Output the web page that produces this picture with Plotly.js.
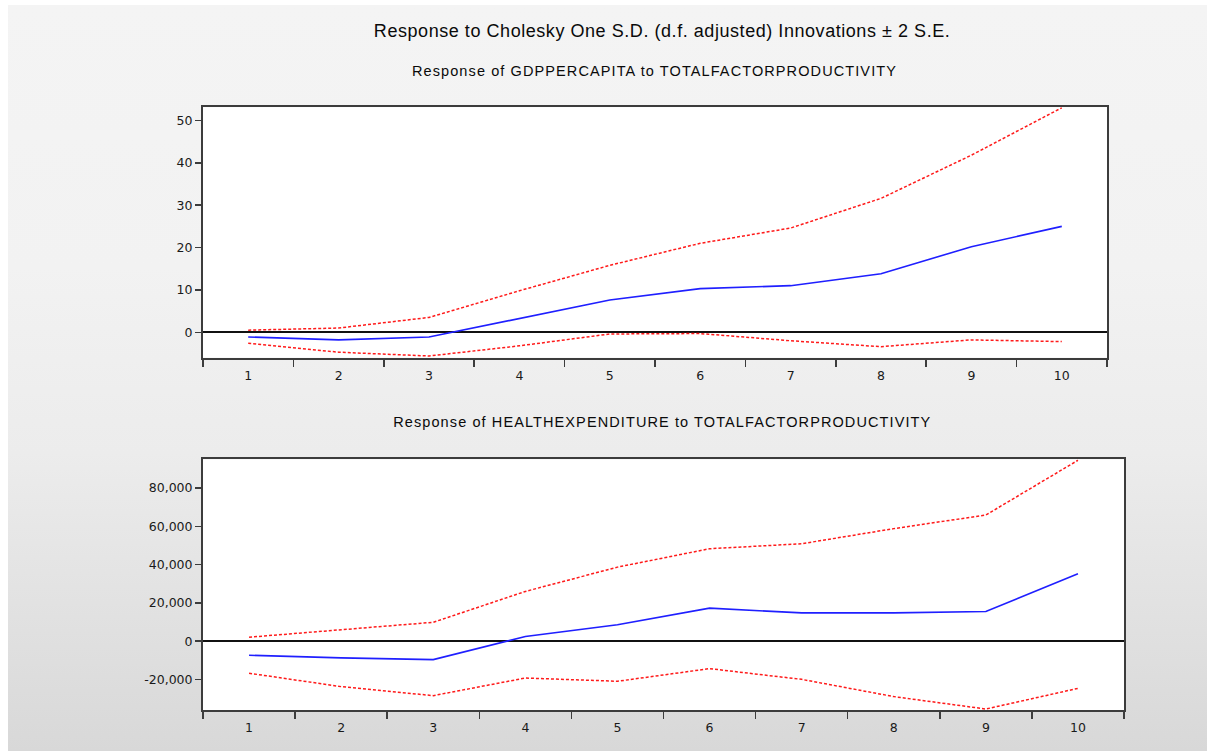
<!DOCTYPE html>
<html>
<head>
<meta charset="utf-8">
<script src="https://cdn.plot.ly/plotly-3.0.1.min.js"></script>
<style>
  html, body { margin: 0; padding: 0; background: #ffffff; }
  #panel {
    position: absolute; left: 8px; top: 5px; width: 1199px; height: 746px;
    background: linear-gradient(to bottom, #f4f4f4 0%, #f2f2f2 35%, #ececec 60%, #d8d8d8 100%);
  }
  #chart { position: absolute; left: 0; top: 0; width: 1207px; height: 751px; }
  #chart g.annotation .annotation-text { letter-spacing: 1.1px; }
  #chart g.annotation[data-index="0"] .annotation-text { letter-spacing: 0.55px; }
</style>
</head>
<body>
<div id="panel"></div>
<div id="chart"></div>
<script>
// Impulse-response periods
const periods = ['1', '2', '3', '4', '5', '6', '7', '8', '9', '10'];

// Response of GDPPERCAPITA to a TOTALFACTORPRODUCTIVITY shock, with ±2 S.E. bands
const gdpResponse = [-1.1, -1.8, -1.1, 3.3, 7.6, 10.3, 11.0, 13.8, 20.2, 25.0];
const gdpUpper    = [0.5, 1.0, 3.5, 9.8, 15.8, 21.0, 24.6, 31.6, 41.8, 53.0];
const gdpLower    = [-2.6, -4.7, -5.6, -3.2, -0.4, -0.3, -2.0, -3.4, -1.8, -2.2];

// Response of HEALTHEXPENDITURE to a TOTALFACTORPRODUCTIVITY shock, with ±2 S.E. bands
const healthResponse = [-7300, -8700, -9600, 2500, 8600, 17300, 14800, 14800, 15500, 35200];
const healthUpper    = [2100, 5900, 9900, 26000, 38700, 48300, 50900, 58800, 65900, 94500];
const healthLower    = [-16700, -23700, -28400, -19200, -20900, -14300, -19900, -28900, -35400, -24600];

// Axis tick labels
const gdpTickVals = [0, 10, 20, 30, 40, 50];
const gdpTickText = ['0', '10', '20', '30', '40', '50'];
const healthTickVals = [-20000, 0, 20000, 40000, 60000, 80000];
const healthTickText = ['-20,000', '0', '20,000', '40,000', '60,000', '80,000'];

// Titles
const mainTitle = 'Response to Cholesky One S.D. (d.f. adjusted) Innovations \u00b1 2 S.E.';
const gdpTitle = 'Response of GDPPERCAPITA to TOTALFACTORPRODUCTIVITY';
const healthTitle = 'Response of HEALTHEXPENDITURE to TOTALFACTORPRODUCTIVITY';

const W = 1207, H = 751;
const frameColor = '#3c3c3c';
const tickFont = { family: 'DejaVu Sans, Verdana, sans-serif', size: 12.5, color: '#1a1a1a' };
const titleFont = 'Liberation Sans, Arial, sans-serif';

function band(y, xa, ya) {
  return { x: periods, y: y, xaxis: xa, yaxis: ya, type: 'scatter', mode: 'lines',
           line: { color: '#ff1a1a', width: 1.5, dash: '3px,2px' }, hoverinfo: 'skip' };
}
function resp(y, xa, ya) {
  return { x: periods, y: y, xaxis: xa, yaxis: ya, type: 'scatter', mode: 'lines',
           line: { color: '#1f1fff', width: 1.6 } };
}

const traces = [
  band(gdpUpper, 'x', 'y'), band(gdpLower, 'x', 'y'), resp(gdpResponse, 'x', 'y'),
  band(healthUpper, 'x2', 'y2'), band(healthLower, 'x2', 'y2'), resp(healthResponse, 'x2', 'y2')
];

function xAxis(domain) {
  return {
    domain: domain, type: 'category', range: [-0.5, 9.5], tickson: 'boundaries',
    ticks: 'outside', ticklen: 7, tickwidth: 1.5, tickcolor: frameColor,
    ticklabelstandoff: 5,
    showline: true, mirror: true, linecolor: frameColor, linewidth: 2,
    showgrid: false, zeroline: false, tickfont: tickFont, fixedrange: true
  };
}
function yAxis(domain, range, vals, text, anchor) {
  return {
    domain: domain, range: range, anchor: anchor,
    tickmode: 'array', tickvals: vals, ticktext: text,
    ticks: 'outside', ticklen: 6, tickwidth: 1.5, tickcolor: frameColor,
    showline: true, mirror: true, linecolor: frameColor, linewidth: 2,
    showgrid: false, zeroline: true, zerolinecolor: '#111111', zerolinewidth: 2,
    tickfont: tickFont, fixedrange: true
  };
}

const layout = {
  width: W, height: H,
  margin: { l: 0, r: 0, t: 0, b: 0 },
  paper_bgcolor: 'rgba(0,0,0,0)', plot_bgcolor: '#ffffff',
  showlegend: false,
  xaxis: Object.assign(xAxis([203 / W, 1107 / W]), { anchor: 'y' }),
  yaxis: yAxis([1 - 357.7 / H, 1 - 107.3 / H], [-6, 53.1], gdpTickVals, gdpTickText, 'x'),
  xaxis2: Object.assign(xAxis([203 / W, 1124 / W]), { anchor: 'y2' }),
  yaxis2: yAxis([1 - 710 / H, 1 - 459.3 / H], [-35900, 95000], healthTickVals, healthTickText, 'x2'),
  annotations: [
    { text: mainTitle, x: 662 / W, y: 1 - 31 / H, xref: 'paper', yref: 'paper',
      xanchor: 'center', yanchor: 'middle', showarrow: false,
      font: { family: titleFont, size: 18, color: '#0a0a0a' } },
    { text: gdpTitle, x: 654 / W, y: 1 - 71 / H, xref: 'paper', yref: 'paper',
      xanchor: 'center', yanchor: 'middle', showarrow: false,
      font: { family: titleFont, size: 14.5, color: '#0a0a0a' } },
    { text: healthTitle, x: 662 / W, y: 1 - 422 / H, xref: 'paper', yref: 'paper',
      xanchor: 'center', yanchor: 'middle', showarrow: false,
      font: { family: titleFont, size: 14.5, color: '#0a0a0a' } }
  ]
};

Plotly.newPlot('chart', traces, layout, { displayModeBar: false, staticPlot: true });
</script>
</body>
</html>
